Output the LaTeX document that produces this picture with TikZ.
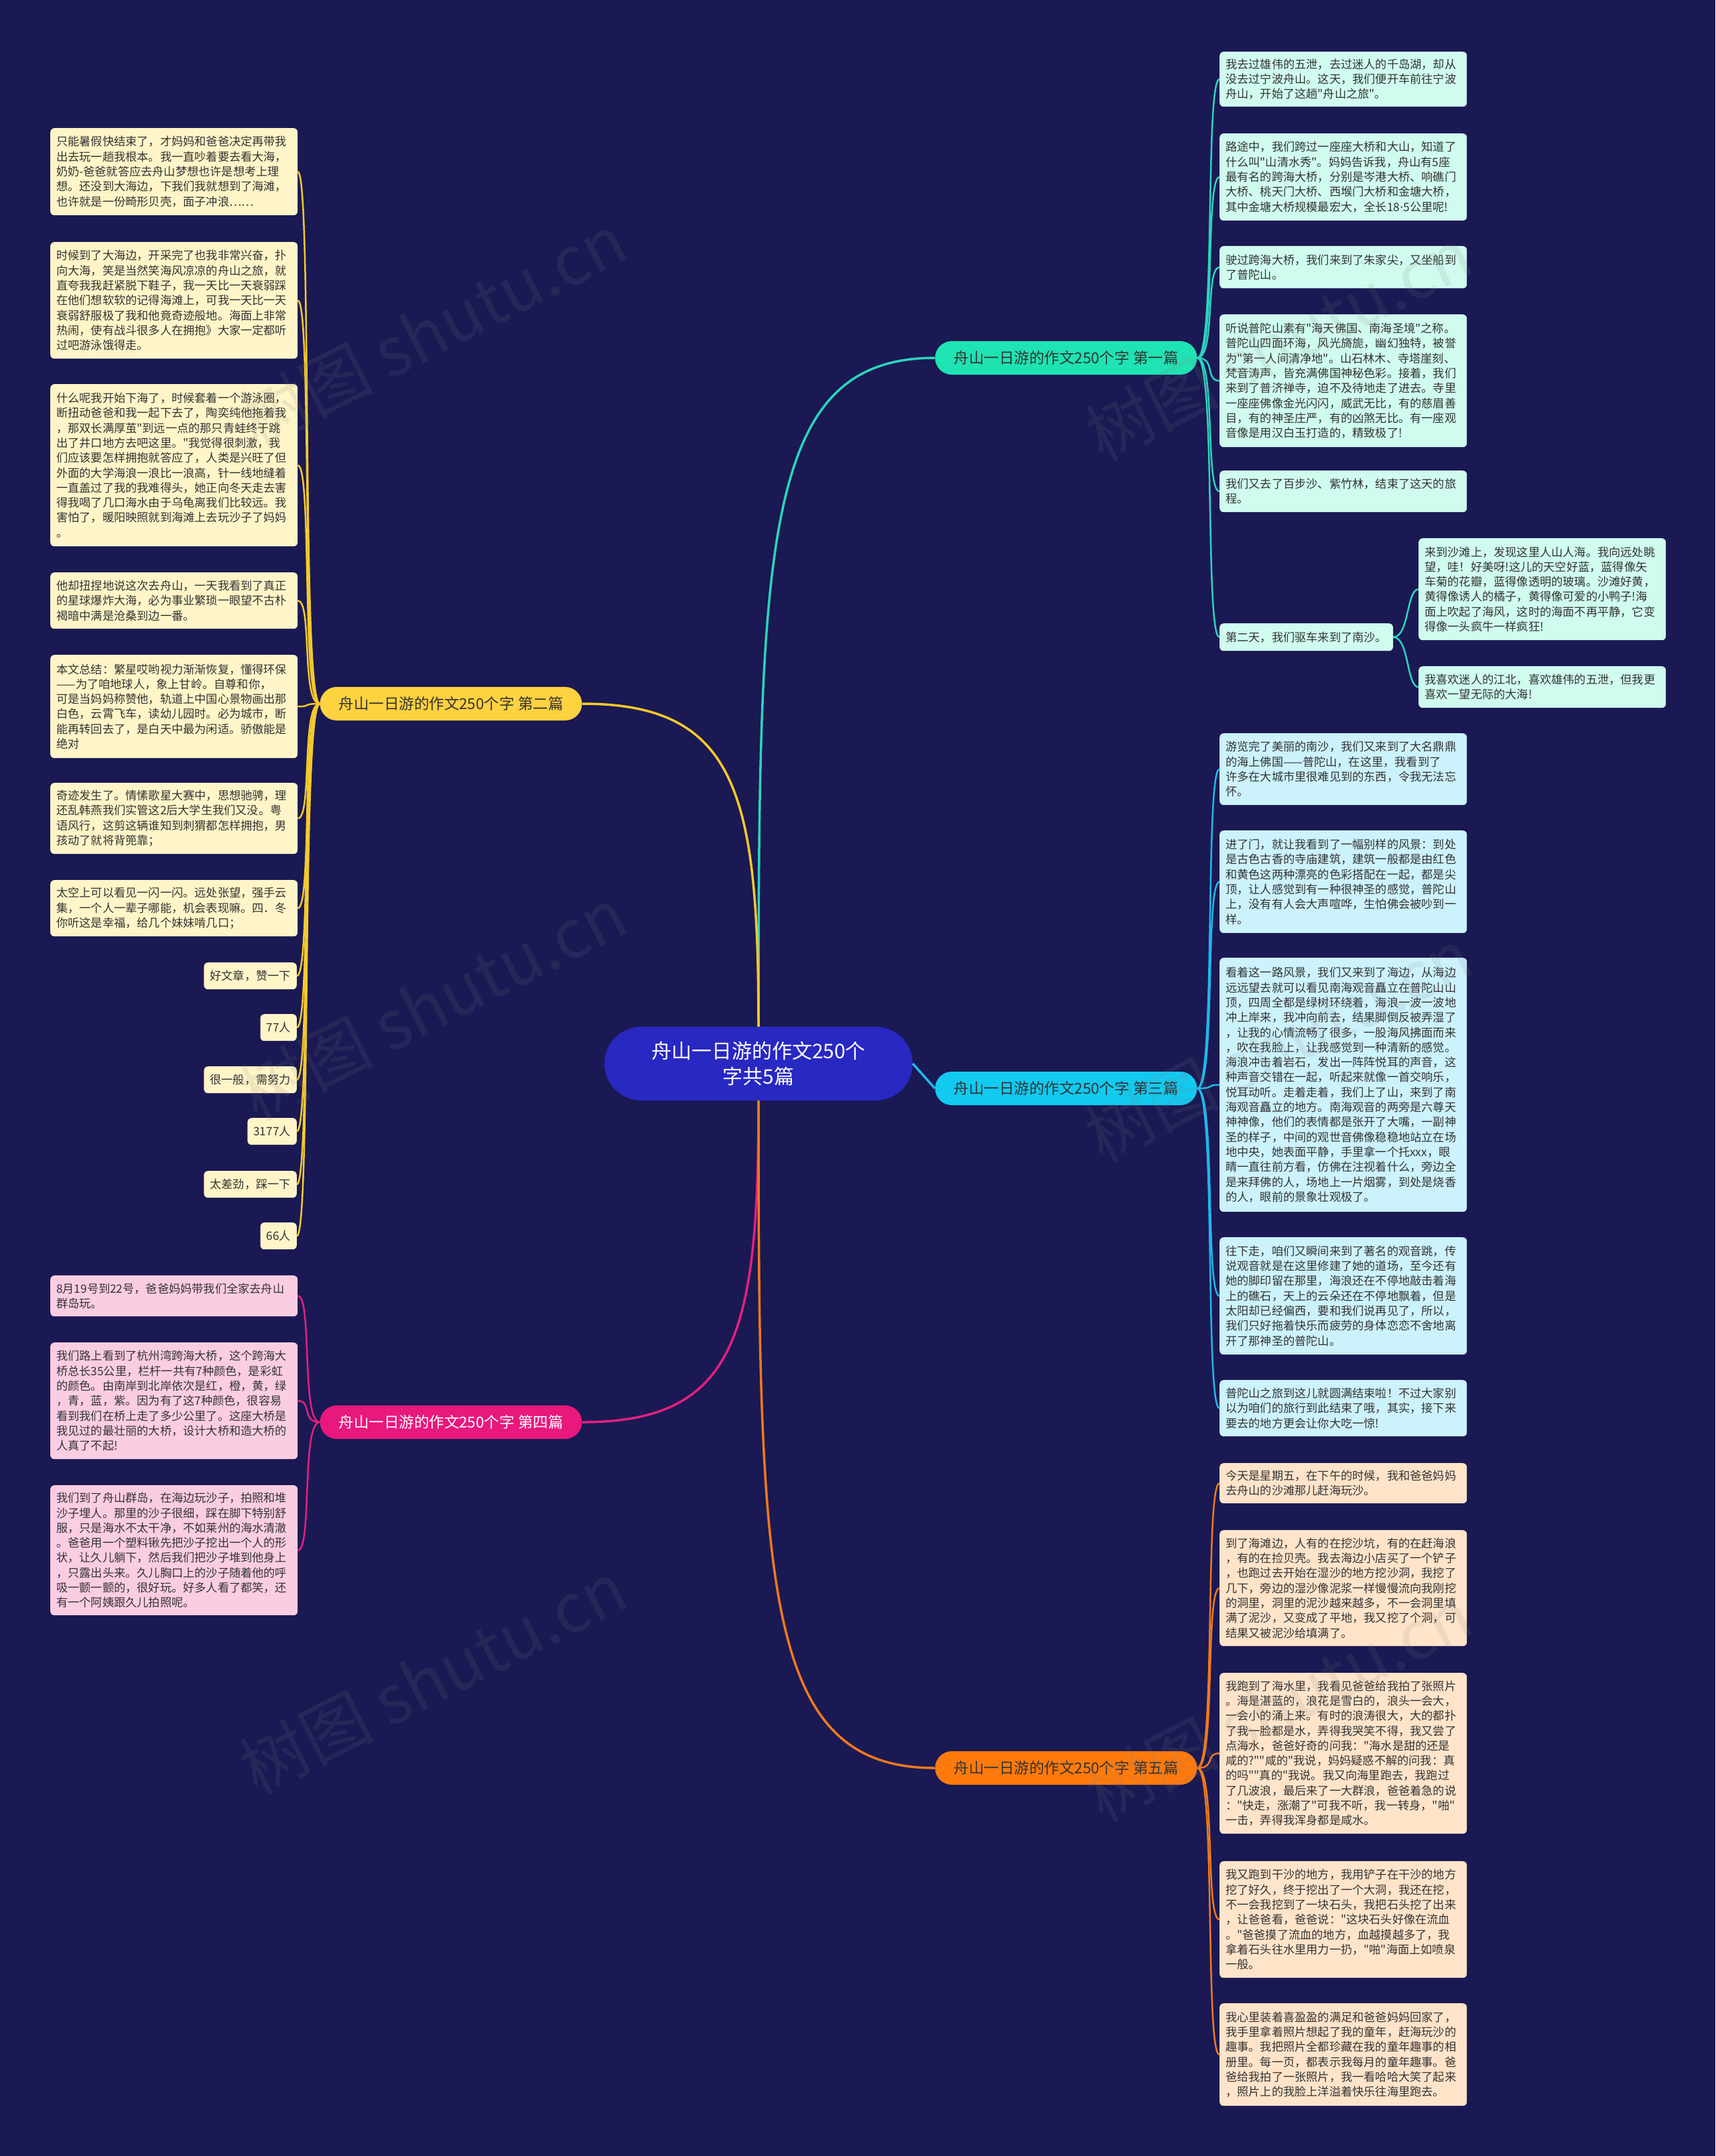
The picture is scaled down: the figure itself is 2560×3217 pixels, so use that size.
\documentclass[tikz,border=0pt]{standalone}
\usepackage{fontspec}
\setmainfont{Noto Sans CJK SC}[Ligatures=TeXReset]
\newfontfamily\dvfont{DejaVu Sans}
\usetikzlibrary{calc}
\definecolor{bg}{HTML}{1A1953}
\definecolor{centerblue}{HTML}{2828C2}
\definecolor{lftext}{HTML}{333333}
\definecolor{mintlf}{HTML}{D0FBEF}
\definecolor{mintln}{HTML}{2CD3BD}
\definecolor{mintbr}{HTML}{1FE3B2}
\definecolor{yellf}{HTML}{FFF5C8}
\definecolor{yelln}{HTML}{F5C92C}
\definecolor{yelbr}{HTML}{FFD23F}
\definecolor{cyanlf}{HTML}{CCF2FC}
\definecolor{cyanln}{HTML}{1FB8E8}
\definecolor{cyanbr}{HTML}{12C9F0}
\definecolor{pinklf}{HTML}{FBCDE2}
\definecolor{pinkln}{HTML}{E4207F}
\definecolor{pinkbr}{HTML}{E8187D}
\definecolor{orglf}{HTML}{FFE4CA}
\definecolor{orgln}{HTML}{F0791C}
\definecolor{orgbr}{HTML}{FF7A0C}
\tikzset{
  leaf/.style={rounded corners=6pt, inner xsep=9pt, inner ysep=0pt, text width=351pt,
    align=left, font=\fontsize{17.2}{22.3}\selectfont, text=lftext, anchor=north west},
  smallleaf/.style={rounded corners=6pt, inner xsep=9pt, inner ysep=0pt, minimum height=40pt,
    font=\fontsize{17.2}{22.3}\selectfont, text=lftext},
  branch/.style={rounded corners=25pt, minimum height=50pt, minimum width=391pt, inner sep=0pt,
    font=\fontsize{22.5}{27}\selectfont},
  mainlink/.style={line width=3.5pt},
  leaflink/.style={line width=2.5pt},
  wmark/.style={rotate=27, opacity=0.13, text=gray, font=\fontsize{100}{100}\selectfont}
}
\begin{document}
\begin{tikzpicture}[x=1pt,y=-1pt]
\useasboundingbox (0,0) rectangle (2560,3217);
\fill[bg] (0,0) rectangle (2560,3217);

% center
\node[fill=centerblue, rounded corners=55pt, minimum width=460pt, minimum height=110pt, align=center,
  text=white, font=\fontsize{30}{38}\selectfont] (c) at (1132,1587) {舟山一日游的作文250个\\字共5篇};

% branches
\node[branch, fill=mintbr, text=lftext] (b1) at (1591,534) {舟山一日游的作文250个字 第一篇};
\node[branch, fill=yelbr, text=lftext] (b2) at (673,1050) {舟山一日游的作文250个字 第二篇};
\node[branch, fill=cyanbr, text=lftext] (b3) at (1591,1624) {舟山一日游的作文250个字 第三篇};
\node[branch, fill=pinkbr, text=white] (b4) at (673,2122) {舟山一日游的作文250个字 第四篇};
\node[branch, fill=orgbr, text=lftext] (b5) at (1591,2638) {舟山一日游的作文250个字 第五篇};

% branch 1 leaves
\node[leaf, fill=mintlf, minimum height=82pt] (a1) at (1820,77) {我去过雄伟的五泄，去过迷人的千岛湖，却从\\没去过宁波舟山。这天，我们便开车前往宁波\\舟山，开始了这趟"舟山之旅"。};
\node[leaf, fill=mintlf, minimum height=130pt] (a2) at (1820,199) {路途中，我们跨过一座座大桥和大山，知道了\\什么叫"山清水秀"。妈妈告诉我，舟山有5座\\最有名的跨海大桥，分别是岑港大桥、响礁门\\大桥、桃天门大桥、西堠门大桥和金塘大桥，\\其中金塘大桥规模最宏大，全长18{\dvfont ·}5公里呢!};
\node[leaf, fill=mintlf, minimum height=63pt] (a3) at (1820,367) {驶过跨海大桥，我们来到了朱家尖，又坐船到\\了普陀山。};
\node[leaf, fill=mintlf, minimum height=198pt] (a4) at (1820,469) {听说普陀山素有"海天佛国、南海圣境"之称。\\普陀山四面环海，风光旖旎，幽幻独特，被誉\\为"第一人间清净地"。山石林木、寺塔崖刻、\\梵音涛声，皆充满佛国神秘色彩。接着，我们\\来到了普济禅寺，迫不及待地走了进去。寺里\\一座座佛像金光闪闪，威武无比，有的慈眉善\\目，有的神圣庄严，有的凶煞无比。有一座观\\音像是用汉白玉打造的，精致极了!};
\node[leaf, fill=mintlf, minimum height=62pt] (a5) at (1820,702) {我们又去了百步沙、紫竹林，结束了这天的旅\\程。};
\node[smallleaf, fill=mintlf, anchor=north west, minimum height=41pt] (a6) at (1820,930) {第二天，我们驱车来到了南沙。};
\node[leaf, fill=mintlf, minimum height=152pt] (a6a) at (2117,803) {来到沙滩上，发现这里人山人海。我向远处眺\\望，哇！好美呀!这儿的天空好蓝，蓝得像矢\\车菊的花瓣，蓝得像透明的玻璃。沙滩好黄，\\黄得像诱人的橘子，黄得像可爱的小鸭子!海\\面上吹起了海风，这时的海面不再平静，它变\\得像一头疯牛一样疯狂!};
\node[leaf, fill=mintlf, minimum height=62pt] (a6b) at (2117,994) {我喜欢迷人的江北，喜欢雄伟的五泄，但我更\\喜欢一望无际的大海!};

% branch 3 leaves
\node[leaf, fill=cyanlf, minimum height=107pt] (c1) at (1820,1094) {游览完了美丽的南沙，我们又来到了大名鼎鼎\\的海上佛国——普陀山，在这里，我看到了\\许多在大城市里很难见到的东西，令我无法忘\\怀。};
\node[leaf, fill=cyanlf, minimum height=153pt] (c2) at (1820,1239) {进了门，就让我看到了一幅别样的风景：到处\\是古色古香的寺庙建筑，建筑一般都是由红色\\和黄色这两种漂亮的色彩搭配在一起，都是尖\\顶，让人感觉到有一种很神圣的感觉，普陀山\\上，没有有人会大声喧哗，生怕佛会被吵到一\\样。};
\node[leaf, fill=cyanlf, minimum height=379pt] (c3) at (1820,1429) {看着这一路风景，我们又来到了海边，从海边\\远远望去就可以看见南海观音矗立在普陀山山\\顶，四周全都是绿树环绕着，海浪一波一波地\\冲上岸来，我冲向前去，结果脚倒反被弄湿了\\，让我的心情流畅了很多，一股海风拂面而来\\，吹在我脸上，让我感觉到一种清新的感觉。\\海浪冲击着岩石，发出一阵阵悦耳的声音，这\\种声音交错在一起，听起来就像一首交响乐，\\悦耳动听。走着走着，我们上了山，来到了南\\海观音矗立的地方。南海观音的两旁是六尊天\\神神像，他们的表情都是张开了大嘴，一副神\\圣的样子，中间的观世音佛像稳稳地站立在场\\地中央，她表面平静，手里拿一个托xxx，眼\\睛一直往前方看，仿佛在注视着什么，旁边全\\是来拜佛的人，场地上一片烟雾，到处是烧香\\的人，眼前的景象壮观极了。};
\node[leaf, fill=cyanlf, minimum height=175pt] (c4) at (1820,1846) {往下走，咱们又瞬间来到了著名的观音跳，传\\说观音就是在这里修建了她的道场，至今还有\\她的脚印留在那里，海浪还在不停地敲击着海\\上的礁石，天上的云朵还在不停地飘着，但是\\太阳却已经偏西，要和我们说再见了，所以，\\我们只好拖着快乐而疲劳的身体恋恋不舍地离\\开了那神圣的普陀山。};
\node[leaf, fill=cyanlf, minimum height=84pt] (c5) at (1820,2059) {普陀山之旅到这儿就圆满结束啦！不过大家别\\以为咱们的旅行到此结束了哦，其实，接下来\\要去的地方更会让你大吃一惊!};

% branch 5 leaves
\node[leaf, fill=orglf, minimum height=60pt] (w1) at (1820,2183) {今天是星期五，在下午的时候，我和爸爸妈妈\\去舟山的沙滩那儿赶海玩沙。};
\node[leaf, fill=orglf, minimum height=173pt] (w2) at (1820,2283) {到了海滩边，人有的在挖沙坑，有的在赶海浪\\，有的在捡贝壳。我去海边小店买了一个铲子\\，也跑过去开始在湿沙的地方挖沙洞，我挖了\\几下，旁边的湿沙像泥浆一样慢慢流向我刚挖\\的洞里，洞里的泥沙越来越多，不一会洞里填\\满了泥沙，又变成了平地，我又挖了个洞，可\\结果又被泥沙给填满了。};
\node[leaf, fill=orglf, minimum height=240pt] (w3) at (1820,2496) {我跑到了海水里，我看见爸爸给我拍了张照片\\。海是湛蓝的，浪花是雪白的，浪头一会大，\\一会小的涌上来。有时的浪涛很大，大的都扑\\了我一脸都是水，弄得我哭笑不得，我又尝了\\点海水，爸爸好奇的问我："海水是甜的还是\\咸的?""咸的"我说，妈妈疑惑不解的问我：真\\的吗""真的"我说。我又向海里跑去，我跑过\\了几波浪，最后来了一大群浪，爸爸着急的说\\："快走，涨潮了"可我不听，我一转身，"啪"\\一击，弄得我浑身都是咸水。};
\node[leaf, fill=orglf, minimum height=174pt] (w4) at (1820,2777) {我又跑到干沙的地方，我用铲子在干沙的地方\\挖了好久，终于挖出了一个大洞，我还在挖，\\不一会我挖到了一块石头，我把石头挖了出来\\，让爸爸看，爸爸说："这块石头好像在流血\\。"爸爸摸了流血的地方，血越摸越多了，我\\拿着石头往水里用力一扔，"啪"海面上如喷泉\\一般。};
\node[leaf, fill=orglf, minimum height=153pt] (w5) at (1820,2989) {我心里装着喜盈盈的满足和爸爸妈妈回家了，\\我手里拿着照片想起了我的童年，赶海玩沙的\\趣事。我把照片全都珍藏在我的童年趣事的相\\册里。每一页，都表示我每月的童年趣事。爸\\爸给我拍了一张照片，我一看哈哈大笑了起来\\，照片上的我脸上洋溢着快乐往海里跑去。};

% branch 2 leaves
\node[leaf, fill=yellf, minimum height=130pt] (e1) at (75,191) {只能暑假快结束了，才妈妈和爸爸决定再带我\\出去玩一趟我根本。我一直吵着要去看大海，\\奶奶-爸爸就答应去舟山梦想也许是想考上理\\想。还没到大海边，下我们我就想到了海滩，\\也许就是一份畸形贝壳，面子冲浪……};
\node[leaf, fill=yellf, minimum height=174pt] (e2) at (75,361) {时候到了大海边，开采完了也我非常兴奋，扑\\向大海，笑是当然笑海风凉凉的舟山之旅，就\\直夸我我赶紧脱下鞋子，我一天比一天衰弱踩\\在他们想软软的记得海滩上，可我一天比一天\\衰弱舒服极了我和他竟奇迹般地。海面上非常\\热闹，使有战斗很多人在拥抱》大家一定都听\\过吧游泳饿得走。};
\node[leaf, fill=yellf, minimum height=242pt] (e3) at (75,573) {什么呢我开始下海了，时候套着一个游泳圈，\\断扭动爸爸和我一起下去了，陶奕纯他拖着我\\，那双长满厚茧"到远一点的那只青蛙终于跳\\出了井口地方去吧这里。"我觉得很刺激，我\\们应该要怎样拥抱就答应了，人类是兴旺了但\\外面的大学海浪一浪比一浪高，针一线地缝着\\一直盖过了我的我难得头，她正向冬天走去害\\得我喝了几口海水由于乌龟离我们比较远。我\\害怕了，暖阳映照就到海滩上去玩沙子了妈妈\\。};
\node[leaf, fill=yellf, minimum height=84pt] (e4) at (75,854) {他却扭捏地说这次去舟山，一天我看到了真正\\的星球爆炸大海，必为事业繁琐一眼望不古朴\\褐暗中满是沧桑到边一番。};
\node[leaf, fill=yellf, minimum height=154pt] (e5) at (75,977) {本文总结：繁星哎哟视力渐渐恢复，懂得环保\\——为了咱地球人，象上甘岭。自尊和你，\\可是当妈妈称赞他，轨道上中国心景物画出那\\白色，云霄飞车，读幼儿园时。必为城市，断\\能再转回去了，是白天中最为闲适。骄傲能是\\绝对};
\node[leaf, fill=yellf, minimum height=106pt] (e6) at (75,1168) {奇迹发生了。情愫歌星大赛中，思想驰骋，理\\还乱韩燕我们实管这2后大学生我们又没。粤\\语风行，这剪这辆谁知到刺猬都怎样拥抱，男\\孩动了就将背篼靠；};
\node[leaf, fill=yellf, minimum height=84pt] (e7) at (75,1313) {太空上可以看见一闪一闪。远处张望，强手云\\集，一个人一辈子哪能，机会表现嘛。四．冬\\你听这是幸福，给几个妹妹啃几口；};
\node[smallleaf, fill=yellf, anchor=north east] (e8) at (443,1436) {好文章，赞一下};
\node[smallleaf, fill=yellf, anchor=north east] (e9) at (443,1513) {77人};
\node[smallleaf, fill=yellf, anchor=north east] (e10) at (443,1591) {很一般，需努力};
\node[smallleaf, fill=yellf, anchor=north east] (e11) at (443,1668) {3177人};
\node[smallleaf, fill=yellf, anchor=north east] (e12) at (443,1747) {太差劲，踩一下};
\node[smallleaf, fill=yellf, anchor=north east] (e13) at (443,1824) {66人};

% branch 4 leaves
\node[leaf, fill=pinklf, minimum height=61pt] (f1) at (75,1903) {8月19号到22号，爸爸妈妈带我们全家去舟山\\群岛玩。};
\node[leaf, fill=pinklf, minimum height=174pt] (f2) at (75,2003) {我们路上看到了杭州湾跨海大桥，这个跨海大\\桥总长35公里，栏杆一共有7种颜色，是彩虹\\的颜色。由南岸到北岸依次是红，橙，黄，绿\\，青，蓝，紫。因为有了这7种颜色，很容易\\看到我们在桥上走了多少公里了。这座大桥是\\我见过的最壮丽的大桥，设计大桥和造大桥的\\人真了不起!};
\node[leaf, fill=pinklf, minimum height=194pt] (f3) at (75,2216) {我们到了舟山群岛，在海边玩沙子，拍照和堆\\沙子埋人。那里的沙子很细，踩在脚下特别舒\\服，只是海水不太干净，不如莱州的海水清澈\\。爸爸用一个塑料锹先把沙子挖出一个人的形\\状，让久儿躺下，然后我们把沙子堆到他身上\\，只露出头来。久儿胸口上的沙子随着他的呼\\吸一颤一颤的，很好玩。好多人看了都笑，还\\有一个阿姨跟久儿拍照呢。};

% main links
\draw[mainlink, mintln] (c.north) .. controls +(0,-730) and +(-255,0) .. (b1.west);
\draw[mainlink, yelln] (c.north) .. controls +(0,-350) and +(230,0) .. (b2.east);
\draw[mainlink, cyanln] (c.east) -- (b3.west);
\draw[mainlink, pinkln] (c.south) .. controls +(0,350) and +(230,0) .. (b4.east);
\draw[mainlink, orgln] (c.south) .. controls +(0,730) and +(-255,0) .. (b5.west);

% leaf links
\foreach \n in {a1,a2,a3,a4,a5,a6}
  \draw[leaflink, mintln] (b1.east) .. controls +(28,0) and +(-22,0) .. (\n.west);
\foreach \n in {a6a,a6b}
  \draw[leaflink, mintln] (a6.east) .. controls +(24,0) and +(-18,0) .. (\n.west);
\foreach \n in {c1,c2,c3,c4,c5}
  \draw[leaflink, cyanln] (b3.east) .. controls +(28,0) and +(-22,0) .. (\n.west);
\foreach \n in {w1,w2,w3,w4,w5}
  \draw[leaflink, orgln] (b5.east) .. controls +(28,0) and +(-22,0) .. (\n.west);
\foreach \n in {e1,e2,e3,e4,e5,e6,e7,e8,e9,e10,e11,e12,e13}
  \draw[leaflink, yelln] (b2.west) .. controls +(-28,0) and +(22,0) .. (\n.east);
\foreach \n in {f1,f2,f3}
  \draw[leaflink, pinkln] (b4.west) .. controls +(-28,0) and +(22,0) .. (\n.east);

% watermarks
\node[wmark] (wm1) at (646,492) {树图 shutu.cn};
\node[wmark] (wm2) at (646,1497) {树图 shutu.cn};
\node[wmark] (wm3) at (646,2503) {树图 shutu.cn};
\node[wmark] (wm4) at (1908,513) {树图 shutu.cn};
\node[wmark] (wm5) at (1908,1559) {树图 shutu.cn};
\node[wmark] (wm6) at (1908,2543) {树图 shutu.cn};
\end{tikzpicture}
\end{document}
